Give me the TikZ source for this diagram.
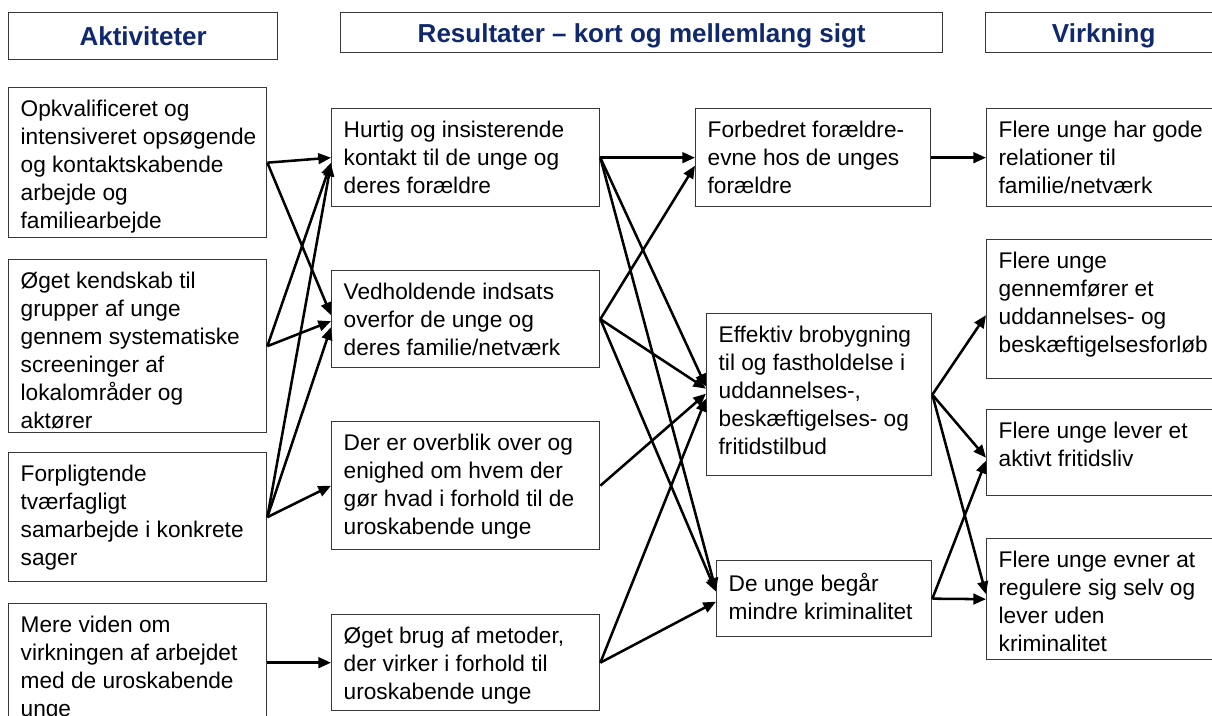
\documentclass[tikz,border=0pt]{standalone}
\usepackage{fontspec}
\setmainfont{Liberation Sans}
\usetikzlibrary{arrows.meta,calc}
\definecolor{hdrblue}{RGB}{16,40,110}
\definecolor{boxline}{RGB}{55,55,55}
\tikzset{
  boxst/.style={draw=boxline, line width=1pt, inner sep=0pt, anchor=north west, fill=white},
  hdrst/.style={draw=boxline, line width=1pt, inner sep=0pt, anchor=north west, fill=white,
    font=\fontsize{19.5}{23}\selectfont\bfseries, text=hdrblue, text depth=0pt},
  arr/.style={line width=1.9pt, -{Triangle[length=9.5pt,width=8pt]}},
}
\newcommand\txtbox[6]{\node[boxst] (#1) at (#2,#3) {\parbox[t][\dimexpr #5pt*3/4\relax][t]{\dimexpr #4pt*3/4\relax}{\vspace*{9.5pt}\raggedright\leftskip=9pt\fontsize{17}{21}\selectfont #6}};}
\begin{document}
\begin{tikzpicture}[x=0.75pt,y=-0.75pt]
\fill[white] (0,0) rectangle (1212,715);
\useasboundingbox (0,0) rectangle (1212,715);
% headers
\node[hdrst, minimum width=201.75pt, minimum height=35.25pt] (h1) at (8,12) {Aktiviteter};
\node[hdrst, minimum width=451.5pt, minimum height=30pt] (h2) at (340,12) {Resultater – kort og mellemlang sigt};
\node[hdrst, minimum width=177pt, minimum height=30pt] (h3) at (985,12) {Virkning};
% activities
\txtbox{A1}{8}{87}{258}{150}{Opkvalificeret og\\intensiveret opsøgende\\og kontaktskabende\\arbejde og\\familiearbejde}
\txtbox{A2}{8}{259}{258}{173}{Øget kendskab til\\grupper af unge\\gennem systematiske\\screeninger af\\lokalområder og\\aktører}
\txtbox{A3}{8}{452}{258}{129}{Forpligtende\\tværfagligt\\samarbejde i konkrete\\sager}
\txtbox{A4}{8}{603}{258}{118}{Mere viden om\\virkningen af arbejdet\\med de uroskabende\\unge}
% results
\txtbox{R1}{331}{108}{268}{98}{Hurtig og insisterende\\kontakt til de unge og\\deres forældre}
\txtbox{R2}{331}{270}{268}{97}{Vedholdende indsats\\overfor de unge og\\deres familie/netværk}
\txtbox{R3}{331}{421}{268}{128}{Der er overblik over og\\enighed om hvem der\\gør hvad i forhold til de\\uroskabende unge}
\txtbox{R4}{331}{614}{268}{96}{Øget brug af metoder,\\der virker i forhold til\\uroskabende unge}
\txtbox{C1}{695}{108}{235}{98}{Forbedret forældre-\\evne hos de unges\\forældre}
\txtbox{C2}{706}{313}{225}{162}{Effektiv brobygning\\til og fastholdelse i\\uddannelses-,\\beskæftigelses- og\\fritidstilbud}
\txtbox{C3}{716}{560}{215}{76}{De unge begår\\mindre kriminalitet}
% effects
\txtbox{V1}{986}{108}{240}{98}{Flere unge har gode\\relationer til\\familie/netværk}
\txtbox{V2}{986}{239}{240}{139}{Flere unge\\gennemfører et\\uddannelses- og\\beskæftigelsesforløb}
\txtbox{V3}{986}{409}{240}{86}{Flere unge lever et\\aktivt fritidsliv}
\txtbox{V4}{986}{538}{240}{121}{Flere unge evner at\\regulere sig selv og\\lever uden\\kriminalitet}
% connectors
\draw[arr] (A1.east) -- (R1.west);
\draw[arr] (A1.east) -- ($(R2.west)+(0,-4)$);
\draw[arr] (A2.east) -- ($(R1.west)+(0,5)$);
\draw[arr] (A2.east) -- ($(R2.west)+(0,2)$);
\draw[arr] (A3.east) -- ($(R1.west)+(0,6)$);
\draw[arr] (A3.east) -- ($(R2.west)+(0,8)$);
\draw[arr] (A3.east) -- (R3.west);
\draw[arr] (A4.east) -- (R4.west);
\draw[arr] (R1.east) -- (C1.west);
\draw[arr] (R1.east) -- ($(C2.west)+(0,-8)$);
\draw[arr] (R1.east) -- ($(C3.west)+(0,-8)$);
\draw[arr] (R2.east) -- ($(C1.west)+(0,8)$);
\draw[arr] (R2.east) -- ($(C2.west)+(0,-6)$);
\draw[arr] (R2.east) -- ($(C3.west)+(0,-7)$);
\draw[arr] (R3.east) -- ($(C2.west)+(0,-1)$);
\draw[arr] (R4.east) -- ($(C2.west)+(0,4)$);
\draw[arr] (R4.east) -- ($(C3.west)+(0,3)$);
\draw[arr] (C1.east) -- (V1.west);
\draw[arr] (C2.east) -- ($(V2.west)+(0,6)$);
\draw[arr] (C2.east) -- ($(V3.west)+(0,5)$);
\draw[arr] (C2.east) -- ($(V4.west)+(0,-5)$);
\draw[arr] (C3.east) -- ($(V3.west)+(0,8)$);
\draw[arr] (C3.east) -- (V4.west);
\end{tikzpicture}
\end{document}
